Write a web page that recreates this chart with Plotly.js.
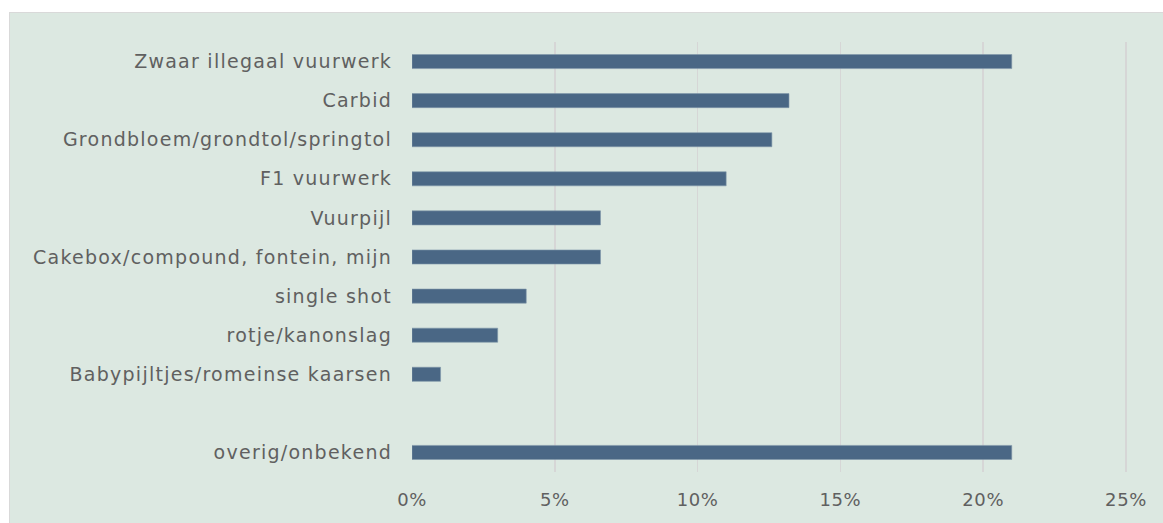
<!DOCTYPE html>
<html><head><meta charset="utf-8">
<script src="https://cdn.plot.ly/plotly-3.0.1.min.js"></script>
<style>
html,body{margin:0;padding:0;background:#ffffff;}
#frame{position:absolute;left:9px;top:12px;width:1154px;height:511px;border:1px solid #d9d9d9;border-right:none;border-bottom:none;box-sizing:border-box;background:#dce8e1;}
#chart{width:1153px;height:510px;}
#chart .ytick text{letter-spacing:1.25px;}
#chart .xtick text{letter-spacing:0.6px;}
</style></head>
<body>
<div id="frame"><div id="chart"></div></div>
<script>
const categories = [
  "Zwaar illegaal vuurwerk",
  "Carbid",
  "Grondbloem/grondtol/springtol",
  "F1 vuurwerk",
  "Vuurpijl",
  "Cakebox/compound, fontein, mijn",
  "single shot",
  "rotje/kanonslag",
  "Babypijltjes/romeinse kaarsen",
  " ",
  "overig/onbekend"
];
const values = [21.0, 13.2, 12.6, 11.0, 6.6, 6.6, 4.0, 3.0, 1.0, null, 21.0];
const tickVals = [0, 5, 10, 15, 20, 25];
const tickText = ["0%", "5%", "10%", "15%", "20%", "25%"];

const trace = {
  type: "bar",
  orientation: "h",
  y: categories,
  x: values,
  marker: {color: "#4a6785", line: {color: "#7f97aa", width: 0.6}},
  hoverinfo: "skip"
};
const layout = {
  width: 1153, height: 510,
  paper_bgcolor: "#dce8e1",
  plot_bgcolor: "#dce8e1",
  margin: {l: 402, r: 27, t: 29, b: 51},
  bargap: 0.64,
  showlegend: false,
  font: {family: "DejaVu Sans, sans-serif", size: 19, color: "#606060"},
  xaxis: {
    range: [0, 25.35],
    tickvals: tickVals,
    ticktext: tickText,
    showgrid: true,
    gridcolor: "#d6d6d6",
    gridwidth: 1.5,
    zeroline: false,
    showline: false,
    ticks: "",
    ticklen: 0,
    ticklabelstandoff: 15,
    tickfont: {size: 18, color: "#606060"},
    fixedrange: true
  },
  yaxis: {
    type: "category",
    categoryorder: "array",
    categoryarray: categories,
    autorange: "reversed",
    showgrid: false,
    zeroline: false,
    ticks: "",
    ticklabelstandoff: 19,
    tickfont: {size: 19, color: "#606060"},
    fixedrange: true
  }
};
Plotly.newPlot("chart", [trace], layout, {displayModeBar: false, staticPlot: true});
</script>
</body></html>
